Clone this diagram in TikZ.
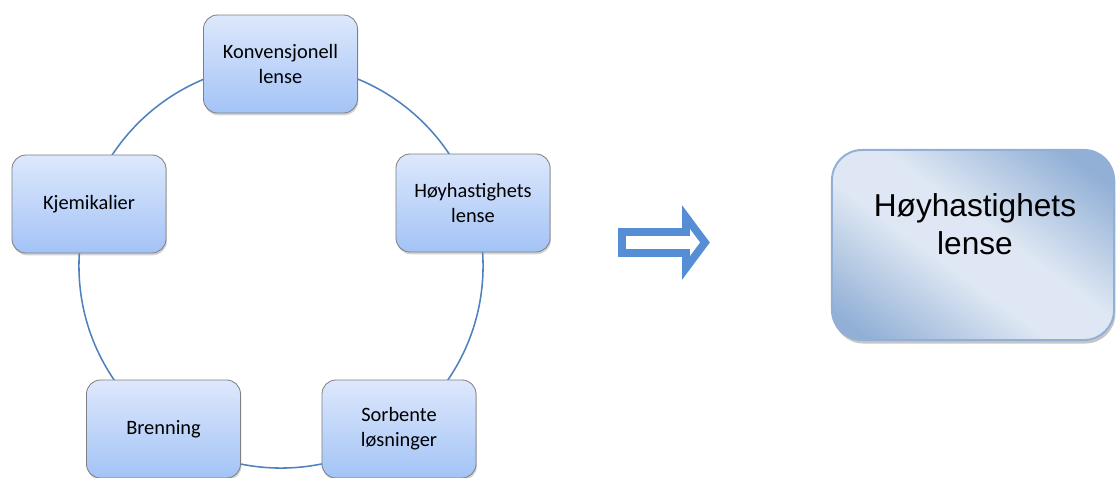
\documentclass[tikz,border=0pt]{standalone}
\usepackage{fontspec}
\setmainfont{Carlito}
\newfontfamily\arialfont{Liberation Sans}
\usetikzlibrary{shadows}

\definecolor{ringblaa}{RGB}{79,129,189}
\definecolor{boksopp}{RGB}{221,232,252}
\definecolor{boksned}{RGB}{163,195,246}
\definecolor{pilblaa}{RGB}{85,142,213}
\definecolor{storlys}{RGB}{222,231,243}
\definecolor{stormork}{RGB}{146,176,214}

\pgfdeclarehorizontalshading{storskygge}{100bp}{color(0bp)=(stormork); color(33bp)=(stormork); color(46bp)=(storlys); color(53bp)=(storlys); color(66bp)=(stormork); color(100bp)=(stormork)}

\tikzset{
    trinn/.style={draw=gray, line width=0.6pt, rounded corners=0.35cm,
        top color=boksopp, bottom color=boksned,
        minimum width=3.85cm, minimum height=2.45cm, align=center,
        font=\fontsize{14.5}{17.8}\selectfont,
        drop shadow={shadow xshift=0.6pt, shadow yshift=-1.6pt, opacity=0.35}},
    ring/.style={draw=ringblaa, line width=1.1pt},
    pilstil/.style={draw=pilblaa, fill=white, line width=5.5pt, miter limit=4},
    storkant/.style={draw=stormork, line width=1.4pt, rounded corners=0.75cm},
}

\begin{document}
\begin{tikzpicture}[x=0.025cm, y=-0.025cm]

    % Rammen rundt hele figuren
    \useasboundingbox (0,0) rectangle (1116,478);

    % Sirkelen gjennom de fem metodene
    \coordinate (midt) at (281,266);
    \draw[ring] (midt) circle[radius=5.05cm];

    % De fem metodene
    \node[trinn] (konv) at (280.5,64) {Konvensjonell\\lense};
    \node[trinn] (hoy) at (473,203) {Høyhastighets\\lense};
    \node[trinn] (kjem) at (89,204) {Kjemikalier};
    \node[trinn] (brenn) at (163.5,429) {Brenning};
    \node[trinn] (sorb) at (399,429) {Sorbente\\løsninger};

    % Pilen mot valgt metode (hul pil)
    \draw[pilstil] (622,232) -- (686,232) -- (686,217) -- (705,242.5)
        -- (686,268) -- (686,253) -- (622,253) -- cycle;

    % Valgt metode: boks med skygge, skrå toning og kant
    \node[fill=stormork, rounded corners=0.75cm, outer sep=0pt,
        minimum width=7.05cm, minimum height=4.75cm,
        drop shadow={shadow xshift=1pt, shadow yshift=-2.5pt, opacity=0.45}] (valgt) at (973,245) {};
    \begin{scope}
        \clip[rounded corners=0.75cm] (valgt.south west) rectangle (valgt.north east);
        \pgflowlevelscope{\pgftransformshift{\pgfpointanchor{valgt}{center}}\pgftransformrotate{54}}
            \shade[shading=storskygge] (-5cm,-5cm) rectangle (5cm,5cm);
        \endpgflowlevelscope
    \end{scope}
    \draw[storkant] (valgt.south west) rectangle (valgt.north east);
    \node[align=center, font=\arialfont\fontsize{22.5}{27}\selectfont] (valgttekst) at (975,224) {Høyhastighets\\lense};

\end{tikzpicture}
\end{document}
